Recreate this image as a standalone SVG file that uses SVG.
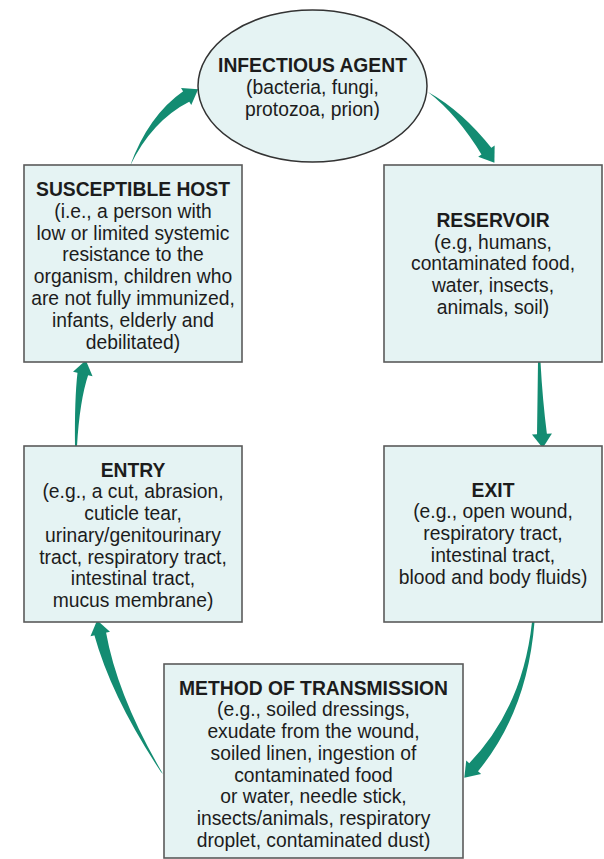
<svg xmlns="http://www.w3.org/2000/svg" xmlns:xlink="http://www.w3.org/1999/xlink" width="604" height="859" viewBox="0 0 604 859">
<style>
.box{fill:#e5f3f3;stroke:#5a5a5a;stroke-width:1.6}
.ell{fill:#e5f3f3;stroke:#333;stroke-width:1.5}
.t{font-family:"Liberation Sans",Arial,sans-serif;font-size:19.3px;fill:#1c1c1c;text-anchor:middle}
.b{font-weight:bold}
.arr{fill:#138c72;stroke:none}
</style>
<defs>
<polygon id="head" class="arr" points="-1,-10 13,0 -1,10"/>
</defs>
<rect width="604" height="859" fill="#ffffff"/>
<g id="connectors">
<path class="arr" d="M130,166 Q151.6,120.7 190.1,101.2 L183.9,90.8 Q148.4,115.3 130,166 Z"/>
<use xlink:href="#head" transform="translate(187,96) rotate(-30.7)"/>
<path class="arr" d="M428,92 Q457.5,114.8 482.1,155.4 L491.9,148.6 Q462.5,111.2 428,92 Z"/>
<use xlink:href="#head" transform="translate(487,152) rotate(55.3)"/>
<path class="arr" d="M538,362 Q537.5,400.1 537,435.3 L547,434.7 Q542.5,399.9 540.5,362 Z"/>
<use xlink:href="#head" transform="translate(542,435) rotate(86.7)"/>
<path class="arr" d="M532,622 Q522.7,708 468.6,764 L477.4,772 Q527.3,712 534.5,622 Z"/>
<use xlink:href="#head" transform="translate(473,768) rotate(131.9)"/>
<path class="arr" d="M163,774 Q117.4,696.3 105.9,631.7 L94.1,634.3 Q111.6,697.7 161,772 Z"/>
<use xlink:href="#head" transform="translate(100,633) rotate(-102.8)"/>
<path class="arr" d="M77,446 Q79.6,400.6 88.4,374.2 L77.6,371.8 Q74.4,399.4 75,446 Z"/>
<use xlink:href="#head" transform="translate(83,373) rotate(-77.5)"/>
</g>
<g id="infectious-agent">
<ellipse class="ell" cx="312.5" cy="86" rx="114.5" ry="76"/>
<text class="t b" x="312.5" y="72">INFECTIOUS AGENT</text>
<text class="t" x="312.5" y="94">(bacteria, fungi,</text>
<text class="t" x="312.5" y="116">protozoa, prion)</text>
</g>
<g id="reservoir">
<rect class="box" x="384" y="165" width="218" height="197"/>
<text class="t b" x="493" y="227">RESERVOIR</text>
<text class="t" x="493" y="248.7">(e.g, humans,</text>
<text class="t" x="493" y="270.4">contaminated food,</text>
<text class="t" x="493" y="292">water, insects,</text>
<text class="t" x="493" y="313.8">animals, soil)</text>
</g>
<g id="exit">
<rect class="box" x="384" y="446" width="218" height="176"/>
<text class="t b" x="493" y="496.5">EXIT</text>
<text class="t" x="493" y="518.3">(e.g., open wound,</text>
<text class="t" x="493" y="540">respiratory tract,</text>
<text class="t" x="493" y="561.8">intestinal tract,</text>
<text class="t" x="493" y="583.5">blood and body fluids)</text>
</g>
<g id="method-of-transmission">
<rect class="box" x="164" y="664" width="299" height="194"/>
<text class="t b" x="313.5" y="694.5">METHOD OF TRANSMISSION</text>
<text class="t" x="313.5" y="716.3">(e.g., soiled dressings,</text>
<text class="t" x="313.5" y="738">exudate from the wound,</text>
<text class="t" x="313.5" y="759.8">soiled linen, ingestion of</text>
<text class="t" x="313.5" y="781.5">contaminated food</text>
<text class="t" x="313.5" y="803.3">or water, needle stick,</text>
<text class="t" x="313.5" y="825">insects/animals, respiratory</text>
<text class="t" x="313.5" y="846.8">droplet, contaminated dust)</text>
</g>
<g id="entry">
<rect class="box" x="24" y="446" width="218" height="176"/>
<text class="t b" x="133" y="476.5">ENTRY</text>
<text class="t" x="133" y="498.3">(e.g., a cut, abrasion,</text>
<text class="t" x="133" y="520">cuticle tear,</text>
<text class="t" x="133" y="541.8">urinary/genitourinary</text>
<text class="t" x="133" y="563.5">tract, respiratory tract,</text>
<text class="t" x="133" y="585.3">intestinal tract,</text>
<text class="t" x="133" y="607">mucus membrane)</text>
</g>
<g id="susceptible-host">
<rect class="box" x="24" y="165" width="218" height="197"/>
<text class="t b" x="133" y="196">SUSCEPTIBLE HOST</text>
<text class="t" x="133" y="217.8">(i.e., a person with</text>
<text class="t" x="133" y="239.6">low or limited systemic</text>
<text class="t" x="133" y="261.4">resistance to the</text>
<text class="t" x="133" y="283.2">organism, children who</text>
<text class="t" x="133" y="305">are not fully immunized,</text>
<text class="t" x="133" y="326.8">infants, elderly and</text>
<text class="t" x="133" y="348.6">debilitated)</text>
</g>
</svg>
